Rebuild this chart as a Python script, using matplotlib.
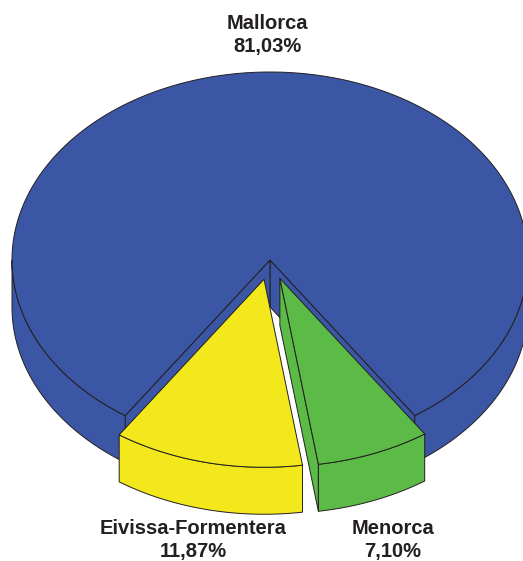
import numpy as np
import matplotlib
matplotlib.use("Agg")
import matplotlib.pyplot as plt
from matplotlib.patches import Polygon

# ---- data ----
labels = ["Mallorca", "Eivissa-Formentera", "Menorca"]
shares = [81.03, 11.87, 7.10]
pct_labels = ["81,03%", "11,87%", "7,10%"]
colors = ["#3B56A5", "#F3E81C", "#5CBA47"]
explode = [0.0, 0.105, 0.105]

# ---- layout ----
W, H = 523, 561
fig = plt.figure(figsize=(W / 100, H / 100), dpi=100)
ax = fig.add_axes([0, 0, 1, 1])
ax.set_xlim(0, W)
ax.set_ylim(H, 0)
ax.axis("off")

cx, cy = 270, 260
rx, ry = 258, 188
depth = 47
EDGE = "#231F20"
LW = 0.7

gap = (100 - shares[0]) * 3.6
start = 270 + gap / 2
ranges = []
a = start
for s in shares:
    ranges.append((a, a + s * 3.6))
    a += s * 3.6


def pts(thetas, off, z, r=1.0):
    t = np.radians(thetas)
    x = cx + off[0] + rx * r * np.cos(t)
    y = cy + off[1] - ry * r * np.sin(t) + z
    return np.column_stack([x, y])


def front_parts(t0, t1):
    parts = []
    for k in range(-1, 3):
        lo, hi = 180 + 360 * k, 360 + 360 * k
        a0, a1 = max(t0, lo), min(t1, hi)
        if a1 > a0:
            parts.append((a0, a1))
    return parts


for i, (t0, t1) in enumerate(ranges):
    mid = np.radians((t0 + t1) / 2)
    e = explode[i]
    off = (e * rx * np.cos(mid), -e * ry * np.sin(mid))
    col = colors[i]
    apex_top = np.array([[cx + off[0], cy + off[1]]])
    apex_bot = apex_top + [0, depth]

    # cut faces (visible ones)
    for ang, normal in ((t0, t0 - 90), (t1, t1 + 90)):
        if np.sin(np.radians(normal)) < -1e-9:
            rim_top = pts([ang], off, 0)
            rim_bot = pts([ang], off, depth)
            quad = np.vstack([apex_top, rim_top, rim_bot, apex_bot])
            ax.add_patch(Polygon(quad, closed=True, facecolor=col,
                                 edgecolor=EDGE, lw=LW, joinstyle="round"))

    # outer walls
    for a0, a1 in front_parts(t0, t1):
        th = np.linspace(a0, a1, 200)
        top = pts(th, off, 0)
        bot = pts(th[::-1], off, depth)
        ax.add_patch(Polygon(np.vstack([top, bot]), closed=True, facecolor=col,
                             edgecolor=EDGE, lw=LW, joinstyle="round"))

    # top face
    th = np.linspace(t0, t1, 600)
    poly = np.vstack([apex_top, pts(th, off, 0)])
    ax.add_patch(Polygon(poly, closed=True, facecolor=col,
                         edgecolor=EDGE, lw=LW, joinstyle="round"))

# ---- labels ----
label_pos = [(267, 29), (193, 534), (393, 534)]
fp = dict(family=["Liberation Sans", "DejaVu Sans"], fontweight="bold",
          fontsize=14.5, color="#231F20", ha="center", va="baseline")
for (x, y), name, pct in zip(label_pos, labels, pct_labels):
    ax.text(x, y, name, **fp)
    ax.text(x, y + 23, pct, **fp)

fig.savefig("out.png", dpi=100)
